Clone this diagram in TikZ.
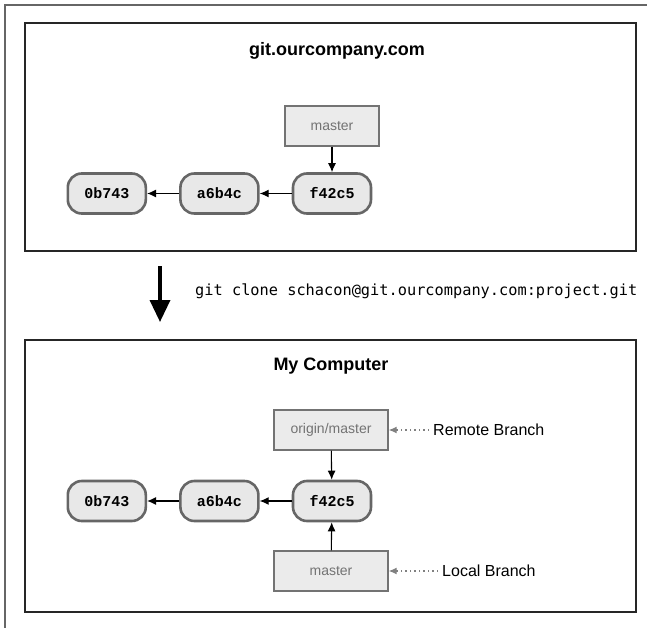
\documentclass[tikz,border=0pt]{standalone}
\usepackage{fontspec}
\setmainfont{Liberation Sans}
\newfontfamily\commitfont{Liberation Mono}
\newfontfamily\clonefont{DejaVu Sans Mono}
\usetikzlibrary{positioning,arrows.meta}

\tikzset{
  commit/.style={draw=black!60, fill=black!9, line width=2.6pt, rounded corners=14pt,
    minimum width=78pt, minimum height=40pt, inner sep=0pt,
    font=\commitfont\bfseries\fontsize{15}{15}\selectfont},
  branch/.style={draw=black!55, fill=black!8, line width=1.4pt, minimum height=40pt,
    inner sep=0pt, text=black!55, font=\fontsize{14}{14}\selectfont},
  machine/.style={draw=black!85, line width=2.6pt},
  title/.style={font=\bfseries\fontsize{18}{18}\selectfont},
  ptr/.style={-{Latex[length=9pt,width=8pt]}, line width=1.1pt},
  note/.style={-{Latex[length=8pt,width=7pt]}, draw=black!50, line width=1.2pt,
    dash pattern=on 1.5pt off 3pt, shorten <=4pt},
  notetext/.style={anchor=west, inner sep=0pt, font=\fontsize{16}{16}\selectfont},
}

\begin{document}
\begin{tikzpicture}[x=1pt,y=-1pt]
        \useasboundingbox (0,0) rectangle (647,628);
        \draw[black!60, line width=1.2pt] (5,628) -- (5,5) -- (647,5);

        %server
        \draw[machine] (25,23) rectangle (636,251);
        \node[title] (srv) at (337,51) {git.ourcompany.com};
        \node[commit] (sf42c5) at (332,193.5) {f42c5};
        \node[commit, left=32pt of sf42c5] (sa6b4c) {a6b4c};
        \node[commit, left=32pt of sa6b4c] (s0b743) {0b743};
        \node[branch, minimum width=94pt] (smaster) at (332,126) {master};
        \draw[ptr] (smaster) -- (sf42c5);
        \draw[ptr] (sf42c5) -- (sa6b4c);
        \draw[ptr] (sa6b4c) -- (s0b743);

        %clone
        \coordinate (clonetop) at (160,266);
        \coordinate (clonebot) at (160,322);
        \draw[line width=3.5pt, -{Triangle[length=22pt,width=20pt]}] (clonetop) -- (clonebot);
        \node[anchor=west, inner sep=0pt, font=\clonefont\fontsize{15.3}{15.3}\selectfont] (clone) at (195,291) {git clone schacon@git.ourcompany.com:project.git};

        %local
        \draw[machine] (25,340) rectangle (636,612);
        \node[title] (pc) at (331,366) {My Computer};
        \node[commit] (lf42c5) at (332,501) {f42c5};
        \node[commit, left=32pt of lf42c5] (la6b4c) {a6b4c};
        \node[commit, left=32pt of la6b4c] (l0b743) {0b743};
        \node[branch, minimum width=114pt] (origin) at (331,430) {origin/master};
        \node[branch, minimum width=114pt] (lmaster) at (331,571) {master};
        \draw[ptr] (origin) -- (lf42c5);
        \draw[ptr] (lmaster) -- (lf42c5);
        \draw[ptr] (lf42c5) -- (la6b4c);
        \draw[ptr] (la6b4c) -- (l0b743);

        %labels
        \node[notetext] (remote) at (433,430) {Remote Branch};
        \node[notetext] (localb) at (442,571) {Local Branch};
        \draw[note] (remote) -- (origin);
        \draw[note] (localb) -- (lmaster);
\end{tikzpicture}
\end{document}
